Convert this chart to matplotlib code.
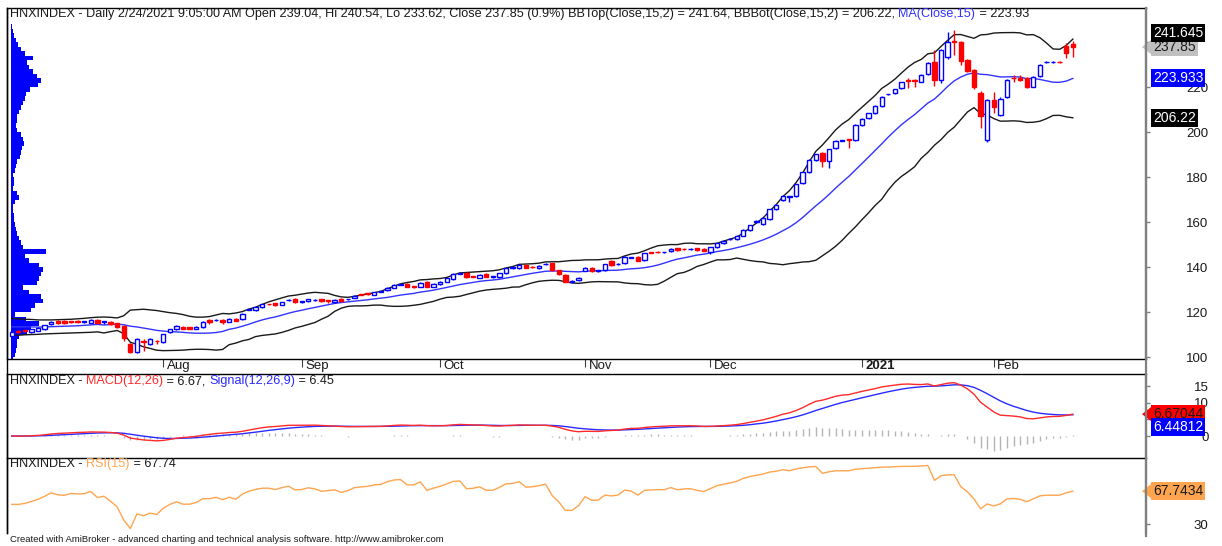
import numpy as np
import pandas as pd
import matplotlib
matplotlib.use('Agg')
import matplotlib.pyplot as plt
from matplotlib.patches import Rectangle, Polygon
from matplotlib.lines import Line2D

plt.rcParams['font.family'] = ['Liberation Sans', 'DejaVu Sans']

# daily bars HNXINDEX, 1 Jul 2020 .. 24 Feb 2021
opens = [109.6, 111.7, 111.9, 111.2, 111.8, 112.4, 114.7, 116.1, 116.2, 116.0,
         115.9, 115.7, 115.4, 116.7, 115.7, 115.8, 115.1, 113.9, 105.9, 102.5,
         107.4, 105.9, 107.4, 106.7, 111.1, 112.4, 113.6, 113.3, 112.7, 113.3,
         116.6, 116.5, 116.6, 115.8, 117.0, 117.0, 121.2, 121.0, 122.2, 123.6,
         124.0, 123.4, 125.4, 126.1, 124.6, 124.9, 125.4, 125.8, 125.3, 124.6,
         125.9, 125.7, 126.5, 127.9, 128.2, 127.8, 129.1, 129.9, 131.0, 132.3,
         132.6, 131.5, 131.4, 133.6, 131.4, 132.4, 133.6, 134.8, 137.2, 137.3,
         135.9, 135.4, 137.0, 135.7, 135.5, 137.3, 139.7, 139.5, 141.0, 140.1,
         139.5, 141.4, 141.8, 138.6, 136.6, 133.5, 134.4, 138.5, 139.8, 138.4,
         138.8, 142.8, 141.4, 141.8, 144.3, 144.7, 143.2, 146.6, 146.8, 146.6,
         147.2, 148.4, 148.1, 148.0, 148.4, 148.1, 146.6, 148.9, 150.7, 152.5,
         152.6, 154.1, 156.6, 160.2, 159.1, 161.5, 165.8, 169.9, 171.3, 171.7,
         177.3, 182.2, 187.7, 190.7, 187.4, 192.9, 196.2, 196.7, 196.6, 203.2,
         206.2, 208.4, 211.7, 216.8, 217.3, 219.5, 222.9, 222.9, 222.5, 225.9,
         231.0, 223.2, 233.6, 240.5, 240.3, 232.1, 227.7, 217.6, 196.6, 214.4,
         207.7, 215.5, 224.1, 224.0, 224.0, 220.3, 225.1, 231.0, 231.0, 231.2,
         238.4, 239.04]
highs = [111.8, 112.0, 112.2, 112.7, 113.4, 114.5, 116.0, 116.4, 116.5, 116.3,
         116.6, 116.1, 116.9, 117.0, 116.0, 116.1, 115.4, 114.2, 106.3, 108.5,
         108.0, 108.4, 107.7, 110.5, 112.7, 114.2, 113.9, 113.6, 113.9, 116.1,
         116.9, 116.9, 116.9, 117.3, 117.3, 119.5, 121.6, 122.8, 123.8, 123.9,
         124.3, 124.7, 125.8, 126.4, 125.0, 126.1, 125.8, 126.1, 125.6, 125.9,
         126.2, 126.1, 127.7, 128.2, 128.5, 129.2, 129.5, 131.2, 132.4, 132.7,
         132.9, 131.8, 133.5, 133.9, 132.9, 133.9, 135.4, 137.3, 137.6, 137.6,
         136.2, 136.9, 137.3, 136.1, 137.6, 139.8, 140.1, 141.3, 141.3, 140.4,
         140.9, 141.8, 142.1, 138.9, 136.9, 134.2, 135.7, 140.1, 140.1, 138.8,
         141.6, 143.1, 141.8, 145.0, 144.7, 145.0, 146.5, 146.9, 147.1, 147.0,
         148.4, 148.7, 148.4, 148.4, 148.7, 148.4, 149.2, 151.0, 152.0, 152.9,
         154.2, 156.9, 159.0, 160.8, 162.4, 166.1, 168.0, 172.0, 171.7, 177.2,
         182.5, 188.0, 190.5, 191.0, 192.7, 196.6, 196.6, 197.0, 203.5, 206.3,
         208.7, 212.0, 216.1, 217.2, 219.4, 222.4, 224.0, 223.6, 225.8, 231.0,
         236.6, 237.0, 244.7, 245.5, 240.6, 232.4, 228.0, 218.5, 214.8, 218.0,
         215.5, 223.6, 225.5, 225.5, 224.5, 225.0, 230.2, 231.5, 231.5, 231.5,
         239.5, 240.54]
lows = [109.2, 111.0, 111.4, 110.9, 111.6, 112.2, 114.4, 114.9, 114.8, 115.4,
        115.3, 115.4, 115.1, 115.1, 114.6, 114.4, 112.9, 107.4, 102.1, 101.8,
        103.0, 105.6, 105.8, 106.4, 110.8, 112.1, 112.4, 112.4, 112.4, 113.0,
        115.0, 116.2, 115.0, 115.5, 116.0, 116.7, 120.9, 120.7, 121.9, 123.2,
        122.8, 123.1, 125.1, 124.1, 124.2, 124.6, 125.1, 124.6, 124.3, 124.3,
        124.7, 125.4, 126.2, 127.5, 127.8, 127.5, 128.8, 129.6, 130.7, 132.0,
        131.1, 130.6, 131.1, 131.1, 131.1, 132.1, 133.3, 134.5, 136.9, 135.2,
        135.5, 135.1, 135.5, 135.1, 135.2, 137.0, 139.4, 139.2, 139.5, 139.7,
        139.2, 141.1, 138.5, 136.6, 133.3, 132.9, 134.1, 138.2, 138.1, 137.9,
        138.5, 140.7, 141.1, 141.5, 144.0, 142.7, 142.9, 146.2, 146.4, 146.3,
        146.9, 147.2, 147.7, 147.7, 147.4, 147.1, 146.0, 148.6, 150.4, 152.2,
        152.3, 153.8, 156.3, 159.5, 158.8, 161.2, 165.5, 169.4, 169.0, 171.4,
        177.0, 181.9, 187.4, 184.7, 184.2, 192.6, 195.9, 193.0, 196.3, 202.9,
        205.9, 208.1, 211.4, 216.5, 217.0, 219.2, 219.5, 220.0, 222.2, 225.6,
        220.5, 222.0, 232.5, 234.4, 230.0, 226.9, 219.0, 201.8, 195.8, 208.5,
        207.0, 215.2, 222.5, 222.7, 219.5, 220.0, 224.5, 230.6, 230.6, 230.6,
        232.9, 233.62]
closes = [111.4, 111.4, 111.7, 112.4, 113.1, 114.2, 115.7, 115.2, 115.1, 115.8,
          115.7, 115.8, 116.6, 115.4, 115.8, 114.7, 113.3, 108.4, 102.5, 108.1,
          106.9, 108.1, 107.2, 110.2, 112.4, 113.9, 112.7, 112.7, 113.6, 115.8,
          115.8, 116.6, 115.7, 117.0, 116.3, 119.2, 121.3, 122.5, 123.5, 123.5,
          123.1, 124.4, 125.5, 124.4, 124.7, 125.8, 125.5, 124.9, 125.2, 125.6,
          125.0, 125.8, 127.4, 127.8, 128.1, 128.9, 129.2, 130.9, 132.1, 132.4,
          131.4, 131.4, 133.2, 131.4, 132.6, 133.6, 135.1, 137.0, 137.3, 135.5,
          135.8, 136.6, 135.8, 135.8, 137.3, 139.5, 139.8, 141.0, 139.8, 140.0,
          140.6, 141.5, 138.8, 136.9, 133.6, 133.6, 135.4, 139.8, 138.4, 138.5,
          141.3, 141.0, 141.5, 144.7, 144.4, 143.0, 146.2, 146.5, 146.7, 146.7,
          148.1, 147.5, 148.0, 148.1, 147.7, 147.4, 148.9, 150.7, 151.7, 152.6,
          153.9, 156.6, 158.7, 160.3, 162.1, 165.8, 167.7, 171.7, 171.4, 176.9,
          182.2, 187.7, 190.2, 187.4, 192.4, 196.3, 196.3, 196.6, 203.2, 206.0,
          208.4, 211.7, 215.8, 216.9, 219.1, 222.1, 222.8, 222.8, 225.5, 230.7,
          223.2, 236.6, 240.3, 240.3, 231.7, 227.2, 220.0, 207.0, 214.4, 211.4,
          214.7, 223.2, 224.0, 223.0, 220.0, 224.7, 229.9, 231.1, 231.1, 231.1,
          235.1, 237.85]

# indicator values on the first 14 bars (window still filling in this view)
ma_head = [113.5, 113.5, 113.5, 113.5, 113.4, 113.5, 113.6, 113.7, 113.8, 113.9,
           114.0, 114.2, 114.4, 114.6]
bbtop_head = [117.3, 117.1, 116.9, 116.8, 116.6, 116.6, 116.6, 116.7, 116.8, 116.9,
              117.1, 117.3, 117.6, 117.8]
bbbot_head = [109.6, 109.8, 110.0, 110.1, 110.2, 110.4, 110.5, 110.6, 110.7, 110.8,
              110.9, 111.0, 111.1, 111.3]
rsi_seed = [0.55, 0.50]   # avg gain / avg loss at first bar

month_pos = [23, 44, 65, 87, 106, 129, 149]
month_lab = ['Aug', 'Sep', 'Oct', 'Nov', 'Dec', '2021', 'Feb']

# right axis ticks; labels that sit under the value tags are left blank
price_ticks = [100, 120, 140, 160, 180, 200, 220, 240]
price_labs = ['100', '120', '140', '160', '180', '200', '220', '']
macd_ticks = [0, 5, 10, 15]
macd_labs = ['0', '', '10', '15']
rsi_ticks = [30, 70]
rsi_labs = ['30', '']

# volume-at-price profile (price bin centres, relative volume)
prof_price = list(range(99, 249, 2))
prof_vol = [2, 4, 5, 6, 6, 8, 16, 20, 28, 15, 4, 20, 24, 32, 30, 18, 12, 26, 28, 30,
            32, 28, 18, 14, 35, 12, 10, 8, 6, 5, 4, 3, 3, 2, 2, 4, 8, 6, 2, 3,
            3, 2, 4, 5, 6, 9, 10, 11, 13, 12, 10, 6, 5, 6, 6, 8, 10, 12, 14, 15,
            19, 27, 30, 26, 22, 18, 16, 22, 14, 10, 7, 5, 3, 2, 1]

# ---- indicators
s = pd.Series(closes)
ma = s.rolling(15).mean().values
sd = s.rolling(15).std(ddof=0).values
bbtop = ma + 2 * sd
bbbot = ma - 2 * sd
ma[:14] = ma_head
bbtop[:14] = bbtop_head
bbbot[:14] = bbbot_head

macd = (s.ewm(span=12, adjust=False).mean() - s.ewm(span=26, adjust=False).mean()).values
signal = pd.Series(macd).ewm(span=9, adjust=False).mean().values
hist = macd - signal

ag, al = rsi_seed
rsi = [100 - 100 / (1 + ag / al)]
for i in range(1, len(closes)):
    d = closes[i] - closes[i - 1]
    ag = (ag * 14 + max(d, 0)) / 15
    al = (al * 14 + max(-d, 0)) / 15
    rsi.append(100 - 100 / (1 + ag / al))
rsi = np.array(rsi)

# ---- layout (pixel based)
W, H = 1222, 546
fig = plt.figure(figsize=(W / 100, H / 100), dpi=100)
fig.patch.set_facecolor('white')
L, R = 7, 1146
blk = '#1a1a1a'

def box(top, bot):
    return [L / W, 1 - bot / H, (R - L) / W, (bot - top) / H]

ax = fig.add_axes(box(8, 359))
axm = fig.add_axes(box(374, 458))
axr = fig.add_axes(box(458, 533))

x = np.arange(len(closes))
xlim = (-0.71, 172.1)
for a in (ax, axm, axr):
    a.set_xlim(*xlim)
    a.set_xticks([])
    for sp in a.spines.values():
        sp.set_color('black')
        sp.set_linewidth(1)
    a.spines['right'].set_color('#808080')
    a.spines['right'].set_linewidth(1.6)

# main panel
ax.set_ylim(99.24, 255.2)
ax.set_yticks(price_ticks, price_labs)
ax.barh(prof_price, np.array(prof_vol) / 6.59, height=2.0, left=-0.05,
        color='#0000ff', zorder=1)
ax.plot(x, bbtop, color='#1a1a1a', lw=1, zorder=2)
ax.plot(x, bbbot, color='#1a1a1a', lw=1, zorder=2)
ax.plot(x, ma, color='#3333ff', lw=1, zorder=2)
for i in range(len(closes)):
    o, h, l, c = opens[i], highs[i], lows[i], closes[i]
    up = c >= o
    col = '#0000ff' if up else '#ff0000'
    ax.vlines(i, l, h, color=col, lw=1, zorder=3)
    bh = max(abs(c - o), 0.25)
    ax.add_patch(Rectangle((i - 0.33, min(o, c)), 0.66, bh,
                           fc='white' if up else '#ff0000', ec=col, lw=1, zorder=4))

ax.set_xticks(month_pos)
ax.tick_params(axis='x', direction='out', length=6, color='#404040', labelbottom=False)
for p, lab in zip(month_pos, month_lab):
    ax.annotate(lab, xy=(p, 0), xycoords=('data', 'axes fraction'), xytext=(2.5, -5.2),
                textcoords='offset points', ha='left', va='center', fontsize=9.5,
                color=blk, fontweight='bold' if lab == '2021' else 'normal')

# MACD panel
axm.set_ylim(-6.6, 18.7)
axm.set_yticks(macd_ticks, macd_labs)
axm.vlines(x, 0, hist, color='#b4b4b4', lw=1, zorder=1)
axm.plot(x, signal, color='#2a2aff', lw=1, zorder=2)
axm.plot(x, macd, color='#ff2a2a', lw=1, zorder=3)
axm.spines['bottom'].set_visible(False)

# RSI panel
axr.set_ylim(20.2, 104.5)
axr.set_yticks(rsi_ticks, rsi_labs)
axr.plot(x, rsi, color='#ffa54f', lw=1)
axr.spines['bottom'].set_visible(False)

for a in (ax, axm, axr):
    a.yaxis.tick_right()
    a.tick_params(axis='y', direction='out', length=3, width=1, color='#808080',
                  labelsize=9.5, pad=42, labelcolor=blk)
    plt.setp(a.get_yticklabels(), ha='right')

# borders through the date strip
fig.add_artist(Line2D([L / W, L / W], [1 - 8 / H, 1 - 533 / H], color='black', lw=1))
fig.add_artist(Line2D([R / W, R / W], [1 - 8 / H, 1 - 536 / H], color='#808080', lw=1.6))

fig.canvas.draw()
rend = fig.canvas.get_renderer()

def rich(xp, yp, parts, size=9.1):
    for txt, col in parts:
        t = fig.text(xp / W, 1 - yp / H, txt, color=col, fontsize=size, ha='left', va='center')
        xp += t.get_window_extent(rend).width

def ypix(a, v):
    return H - a.transData.transform((0, v))[1]

def tag(yp, txt, fc, tc, arrow=False):
    fig.text(1153 / W, 1 - yp / H, txt, color=tc, fontsize=10, ha='left', va='center',
             bbox=dict(boxstyle='square,pad=0.14', fc=fc, ec='none'))
    if arrow:
        fig.add_artist(Polygon([[1142 / W, 1 - yp / H], [1151 / W, 1 - (yp - 7) / H],
                                [1151 / W, 1 - (yp + 7) / H]], closed=True,
                               transform=fig.transFigure, fc=fc, ec='none'))

rich(10, 14, [("HNXINDEX - Daily 2/24/2021 9:05:00 AM Open 239.04, Hi 240.54, Lo 233.62, "
               "Close 237.85 (0.9%) BBTop(Close,15,2) = 241.64, BBBot(Close,15,2) = 206.22, ", blk),
              ("MA(Close,15)", '#3333ff'), (" = 223.93", blk)])
rich(10, 381, [("HNXINDEX - ", blk), ("MACD(12,26)", '#ff2a2a'), (" = 6.67, ", blk),
               ("Signal(12,26,9)", '#2a2aff'), (" = 6.45", blk)])
rich(10, 464, [("HNXINDEX - ", blk), ("RSI(15)", '#ffa54f'), (" = 67.74", blk)])
fig.text(10 / W, 1 - 540 / H,
         "Created with AmiBroker - advanced charting and technical analysis software. http://www.amibroker.com",
         fontsize=6.8, color=blk, ha='left', va='center')

yc = ypix(ax, closes[-1])
tag(yc, '237.85', '#c0c0c0', blk, arrow=True)
tag(yc - 14, '241.645', 'black', 'white')
tag(ypix(ax, ma[-1]), '223.933', '#0000ff', 'white')
tag(ypix(ax, bbbot[-1]), '206.22', 'black', 'white')
ym = ypix(axm, macd[-1])
tag(ym, '6.67044', '#ff0000', blk, arrow=True)
tag(ym + 13, '6.44812', '#0000ff', 'white')
tag(ypix(axr, rsi[-1]), '67.7434', '#ffa54f', blk, arrow=True)

fig.savefig('out.png', dpi=100, facecolor='white')
